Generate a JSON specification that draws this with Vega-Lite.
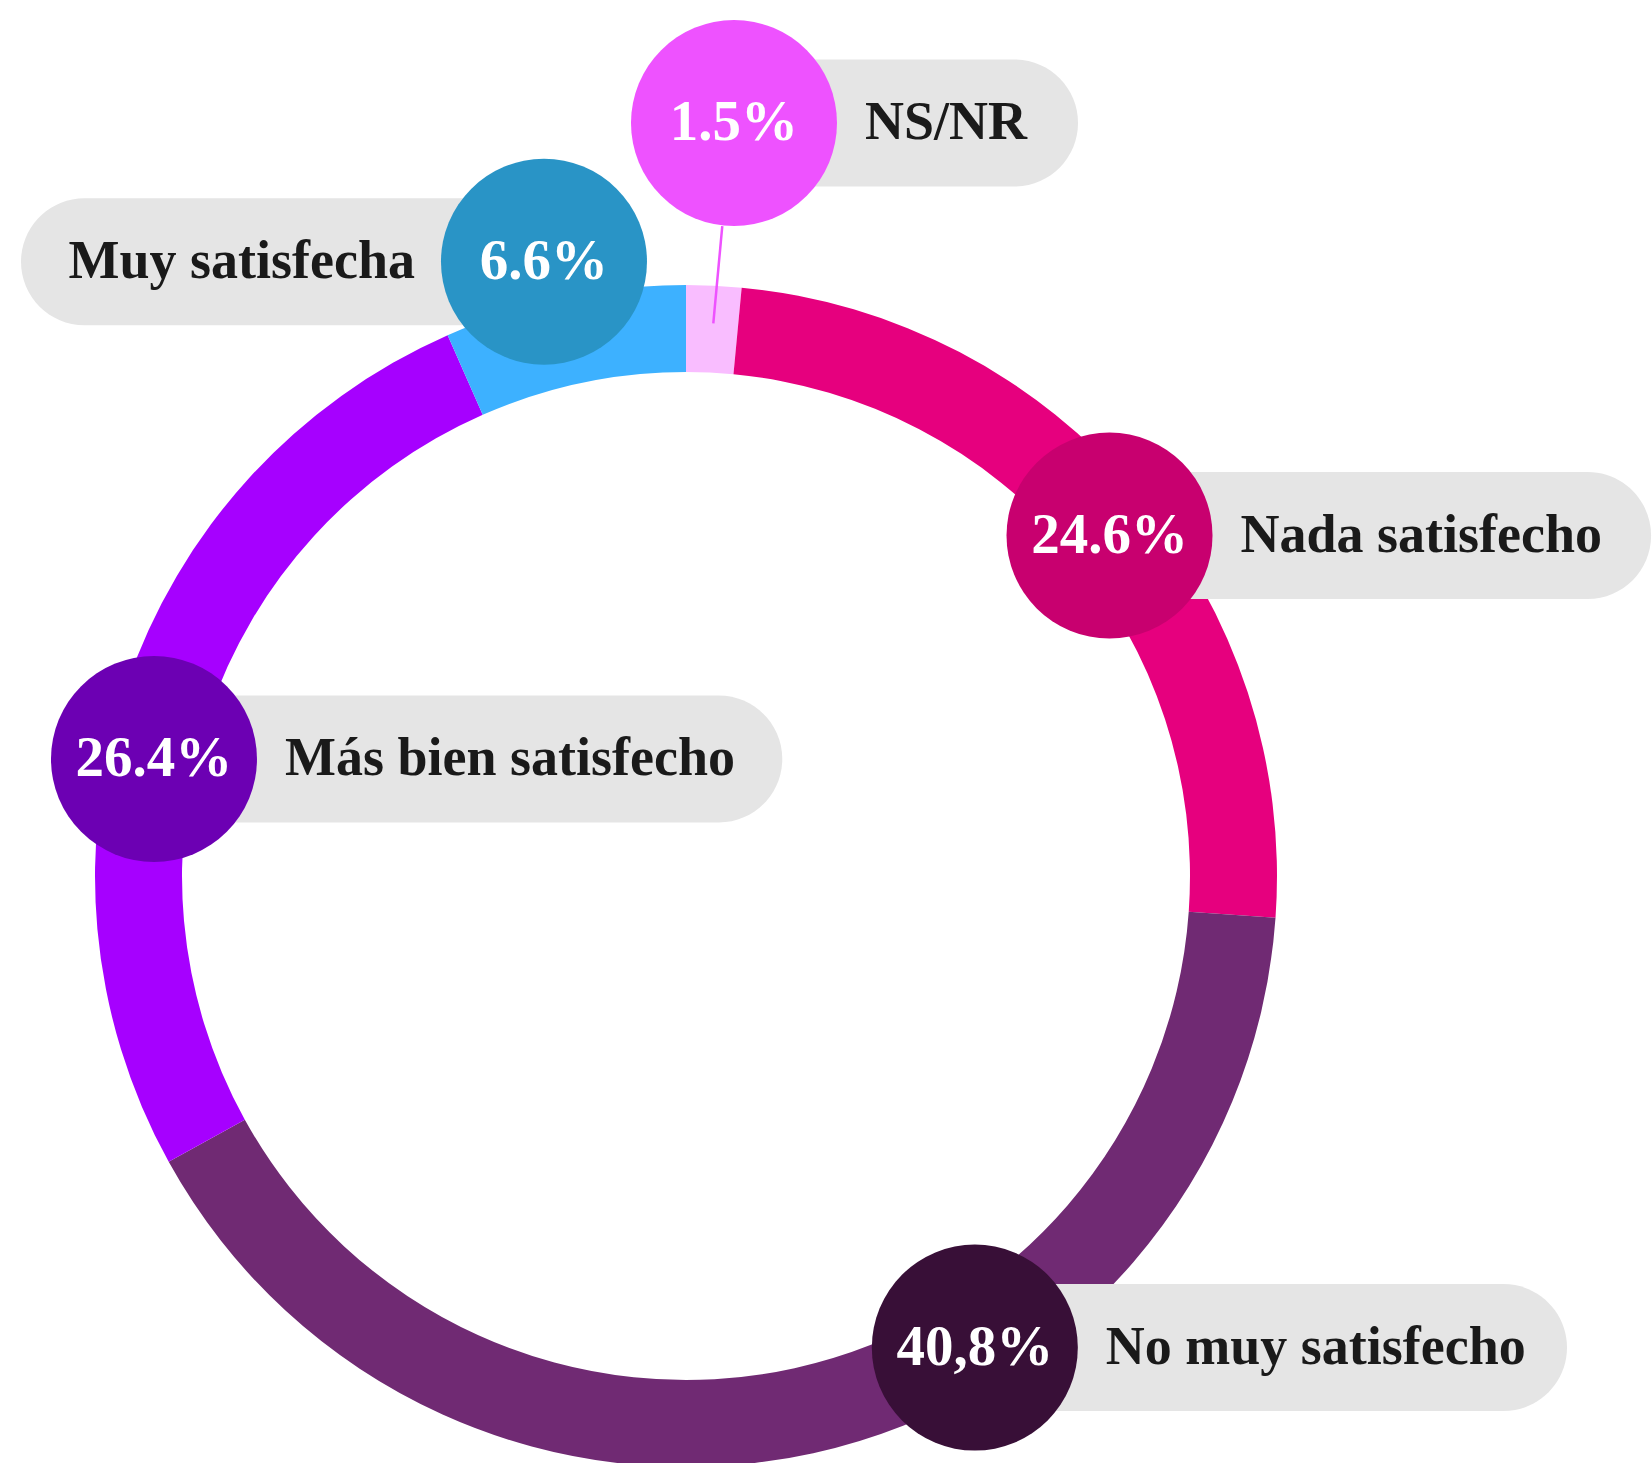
{
  "$schema": "https://vega.github.io/schema/vega-lite/v6.json",
  "width": 1652,
  "height": 1463,
  "padding": 0,
  "autosize": {"type": "none"},
  "background": "white",
  "config": {"view": {"stroke": null}},
  "datasets": {
    "segmentos": [
      {"categoria": "NS/NR", "pct": 1.5, "orden": 1},
      {"categoria": "Nada satisfecho", "pct": 24.6, "orden": 2},
      {"categoria": "No muy satisfecho", "pct": 40.8, "orden": 3},
      {"categoria": "Más bien satisfecho", "pct": 26.4, "orden": 4},
      {"categoria": "Muy satisfecha", "pct": 6.6, "orden": 5}
    ],
    "etiquetas": [
      {"categoria": "NS/NR", "texto": "1.5%", "x": 8.12, "y": 127.41, "fin": 66.33, "lado": "derecha"},
      {"categoria": "Muy satisfecha", "texto": "6.6%", "x": -24.03, "y": 103.94, "fin": -112.52, "lado": "izquierda"},
      {"categoria": "Nada satisfecho", "texto": "24.6%", "x": 71.66, "y": 57.6, "fin": 163.3, "lado": "derecha"},
      {"categoria": "Más bien satisfecho", "texto": "26.4%", "x": -90.02, "y": 19.8, "fin": 16.29, "lado": "derecha"},
      {"categoria": "No muy satisfecho", "texto": "40,8%", "x": 48.87, "y": -79.8, "fin": 149.07, "lado": "derecha"}
    ],
    "conector": [
      {"x": 6.14, "y": 109.98, "x2": 4.62, "y2": 93.52}
    ]
  },
  "layer": [
    {
      "data": {"name": "segmentos"},
      "mark": {"type": "arc", "outerRadius": 591, "innerRadius": 504},
      "encoding": {
        "theta": {"field": "pct", "type": "quantitative", "stack": true},
        "order": {"field": "orden", "type": "quantitative"},
        "x": {"datum": 0, "type": "quantitative", "scale": {"domain": [-116.074, 163.452], "nice": false, "zero": false, "padding": 0}, "axis": null},
        "y": {"datum": 0, "type": "quantitative", "scale": {"domain": [-99.323, 148.223], "nice": false, "zero": false, "padding": 0}, "axis": null},
        "color": {
          "field": "categoria", "type": "nominal", "legend": null,
          "scale": {
            "domain": ["NS/NR", "Nada satisfecho", "No muy satisfecho", "Más bien satisfecho", "Muy satisfecha"],
            "range": ["#F9BDFF", "#E6007E", "#702A73", "#A600FF", "#3DB1FF"]
          }
        }
      }
    },
    {
      "data": {"name": "conector"},
      "mark": {"type": "rule", "color": "#EE52FF", "strokeWidth": 2.5},
      "encoding": {
        "x": {"field": "x", "type": "quantitative"},
        "y": {"field": "y", "type": "quantitative"},
        "x2": {"field": "x2"},
        "y2": {"field": "y2"}
      }
    },
    {
      "data": {"name": "etiquetas"},
      "mark": {"type": "bar", "orient": "horizontal", "height": 127, "cornerRadius": 63.5, "color": "#E5E5E5"},
      "encoding": {
        "x": {"field": "x", "type": "quantitative"},
        "x2": {"field": "fin"},
        "y": {"field": "y", "type": "quantitative"}
      }
    },
    {
      "data": {"name": "etiquetas"},
      "mark": {"type": "point", "shape": "circle", "filled": true, "opacity": 1, "size": 42436, "strokeWidth": 0},
      "encoding": {
        "x": {"field": "x", "type": "quantitative"},
        "y": {"field": "y", "type": "quantitative"},
        "fill": {
          "field": "categoria", "type": "nominal", "legend": null,
          "scale": {
            "domain": ["NS/NR", "Nada satisfecho", "No muy satisfecho", "Más bien satisfecho", "Muy satisfecha"],
            "range": ["#EE52FF", "#C8006F", "#380F37", "#6C00B3", "#2994C6"]
          }
        }
      }
    },
    {
      "data": {"name": "etiquetas"},
      "mark": {"type": "text", "font": "Liberation Serif", "fontWeight": "bold", "fontSize": 57, "color": "white", "align": "center", "baseline": "middle"},
      "encoding": {
        "x": {"field": "x", "type": "quantitative"},
        "y": {"field": "y", "type": "quantitative"},
        "text": {"field": "texto"}
      }
    },
    {
      "data": {"name": "etiquetas"},
      "transform": [{"filter": "datum.lado == 'derecha'"}],
      "mark": {"type": "text", "font": "Liberation Serif", "fontWeight": "bold", "fontSize": 54, "color": "#1A1A1A", "align": "left", "baseline": "middle", "dx": 131},
      "encoding": {
        "x": {"field": "x", "type": "quantitative"},
        "y": {"field": "y", "type": "quantitative"},
        "text": {"field": "categoria"}
      }
    },
    {
      "data": {"name": "etiquetas"},
      "transform": [{"filter": "datum.lado == 'izquierda'"}],
      "mark": {"type": "text", "font": "Liberation Serif", "fontWeight": "bold", "fontSize": 54, "color": "#1A1A1A", "align": "right", "baseline": "middle", "dx": -129},
      "encoding": {
        "x": {"field": "x", "type": "quantitative"},
        "y": {"field": "y", "type": "quantitative"},
        "text": {"field": "categoria"}
      }
    }
  ],
  "resolve": {"scale": {"color": "independent"}}
}
